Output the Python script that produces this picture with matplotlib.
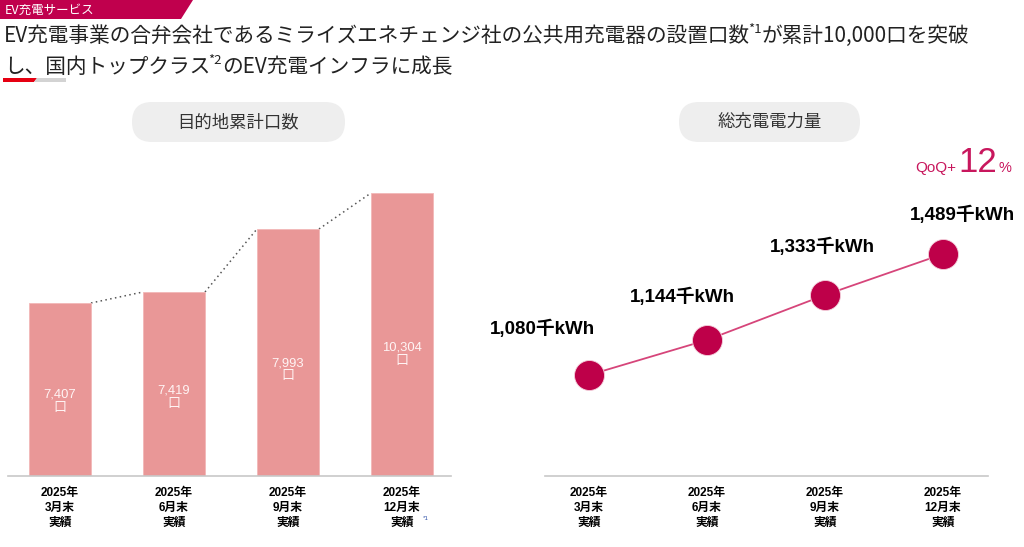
import matplotlib
matplotlib.use('Agg')
import matplotlib.pyplot as plt
from matplotlib.patches import Polygon, FancyBboxPatch

# ---------------- data ----------------
periods = ['2025年\n3月末\n実績', '2025年\n6月末\n実績', '2025年\n9月末\n実績', '2025年\n12月末\n実績']
ports = [7407, 7419, 7993, 10304]                 # 目的地累計口数
ports_drawn = [173, 184, 247, 283]                # bar heights as drawn in the source (not to scale)
energy = [1080, 1144, 1333, 1489]                 # 総充電電力量 (千kWh)
energy_drawn = [101, 136, 181, 222]               # point levels as drawn in the source (not to scale)
qoq_pct = 12

left_title = '目的地累計口数'
right_title = '総充電電力量'
tag_text = 'EV充電サービス'

# ---------------- setup ----------------
W, H = 1024, 547
fig = plt.figure(figsize=(W / 100, H / 100), dpi=100)
fig.patch.set_facecolor('white')

JP = ['Noto Sans CJK JP', 'DejaVu Sans']
LAT = ['Liberation Sans', 'Noto Sans CJK JP']
MAG = '#BE0049'

def fx(px):
    return px / W

def fy(py):
    return 1 - py / H

ov = fig.add_axes([0, 0, 1, 1])
ov.set_xlim(0, W)
ov.set_ylim(0, H)
ov.axis('off')

def Y(py):
    return H - py

renderer = fig.canvas.get_renderer()

def run(parts, x, ybase):
    """Draw text parts one after another on a shared baseline (pixel coords from top)."""
    for txt, size, dy, color, family, weight, gap in parts:
        t = ov.text(x + gap, Y(ybase - dy), txt, fontsize=size, color=color, family=family,
                    fontweight=weight, ha='left', va='baseline')
        bb = t.get_window_extent(renderer=renderer)
        x += bb.width + gap
    return x

# header tag
ov.add_patch(Polygon([[0, Y(0)], [193, Y(0)], [181, Y(19)], [0, Y(19)]], closed=True,
                     facecolor='#C0004D', edgecolor='none'))
ov.text(5, Y(10), tag_text, fontsize=9, color='white', family=JP, va='center', ha='left')

# headline
TC = '#222222'
run([('EV充電事業の合弁会社であるミライズエネチェンジ社の公共用充電器の設置口数', 14.9, 0, TC, JP, 'normal', 0),
     ('*1', 9.5, 9, TC, JP, 'normal', -2),
     ('が累計10,000口を突破', 14.9, 0, TC, JP, 'normal', 0)], 4, 42)
run([('し、国内トップクラス', 14.9, 0, TC, JP, 'normal', 0),
     ('*2', 9.5, 9, TC, JP, 'normal', -2),
     ('のEV充電インフラに成長', 14.9, 0, TC, JP, 'normal', 0)], 4, 73)

# accent underline
ov.add_patch(Polygon([[3, Y(78)], [37, Y(78)], [34, Y(82)], [3, Y(82)]], closed=True,
                     facecolor='#E60012', edgecolor='none'))
ov.add_patch(Polygon([[37, Y(78)], [66, Y(78)], [66, Y(82)], [34, Y(82)]], closed=True,
                     facecolor='#D3D3D3', edgecolor='none'))

# pills
for (x0, x1), label in [((132, 345), left_title), ((679, 860), right_title)]:
    ov.add_patch(FancyBboxPatch((x0, Y(142)), (x1 - x0), 40,
                                boxstyle='round,pad=0,rounding_size=20',
                                facecolor='#EEEEEE', edgecolor='none'))
    ov.text((x0 + x1) / 2, Y(122), label, fontsize=12.5, color='#333333', family=JP,
            ha='center', va='center')

# QoQ
run([('QoQ+', 11, 0, '#C8175D', LAT, 'normal', 0),
     (f'{qoq_pct}', 25, 0, '#C8175D', LAT, 'normal', 2),
     ('%', 10.5, 0, '#C8175D', LAT, 'normal', 2)], 915, 172)

# ---------------- left: bar chart ----------------
axL = fig.add_axes([fx(8), fy(476), fx(451) - fx(8), 296 / H])
x = list(range(len(ports)))
bw = 0.544
axL.bar(x, ports_drawn, width=bw, color='#E99797', edgecolor='#F2B8B8', linewidth=0.6, zorder=2)
axL.set_xlim(-0.456, 3.43)
axL.set_ylim(0, 296)
for i in range(len(x) - 1):
    axL.plot([x[i] + bw / 2, x[i + 1] - bw / 2], [ports_drawn[i], ports_drawn[i + 1]],
             linestyle=(0, (1, 2.2)), color='#555555', lw=1.1, zorder=1)
for xi, v, h in zip(x, ports, ports_drawn):
    axL.text(xi, h * 0.43, f'{v:,}\n口', ha='center', va='center', fontsize=9.4,
             color='#FFF4F4', family=LAT, linespacing=1.15, zorder=3)
axL.set_xticks(x)
axL.set_xticklabels(periods, fontsize=8.5, fontweight='bold', family=LAT, color='black')
for t in axL.get_xticklabels():
    t.set_linespacing(1.35)
axL.tick_params(axis='x', length=0, pad=8)
axL.set_yticks([])
for s in ['top', 'right', 'left']:
    axL.spines[s].set_visible(False)
axL.spines['bottom'].set_color('#C8C8C8')
axL.spines['bottom'].set_linewidth(1.2)
axL.set_facecolor('none')
# footnote mark next to last label
ov.text(423, Y(518), '*1', fontsize=4.5, color='#3355AA', family=LAT, ha='left', va='center')

# ---------------- right: line chart ----------------
axR = fig.add_axes([fx(545), fy(476), fx(988) - fx(545), 296 / H])
axR.plot(x, energy_drawn, color='#D6457A', lw=1.3, zorder=2)
axR.scatter(x, energy_drawn, s=(30 * 0.72) ** 2, color=MAG, edgecolors='#F4D0DC',
            linewidths=0.6, zorder=3)
axR.set_xlim(-0.373, 3.381)
axR.set_ylim(0, 296)
label_offsets = [(-47, 46), (-25, 43), (-3, 48), (19, 39)]
for xi, v, h, off in zip(x, energy, energy_drawn, label_offsets):
    axR.annotate(f'{v:,}千kWh', (xi, h), xytext=off, textcoords='offset pixels',
                 ha='center', va='center', fontsize=13.5, fontweight='bold',
                 family=LAT, color='black')
axR.set_xticks(x)
axR.set_xticklabels(periods, fontsize=8.5, fontweight='bold', family=LAT, color='black')
for t in axR.get_xticklabels():
    t.set_linespacing(1.35)
axR.tick_params(axis='x', length=0, pad=8)
axR.set_yticks([])
for s in ['top', 'right', 'left']:
    axR.spines[s].set_visible(False)
axR.spines['bottom'].set_color('#C8C8C8')
axR.spines['bottom'].set_linewidth(1.2)
axR.set_facecolor('none')

fig.savefig('out.png', dpi=100, facecolor='white')
